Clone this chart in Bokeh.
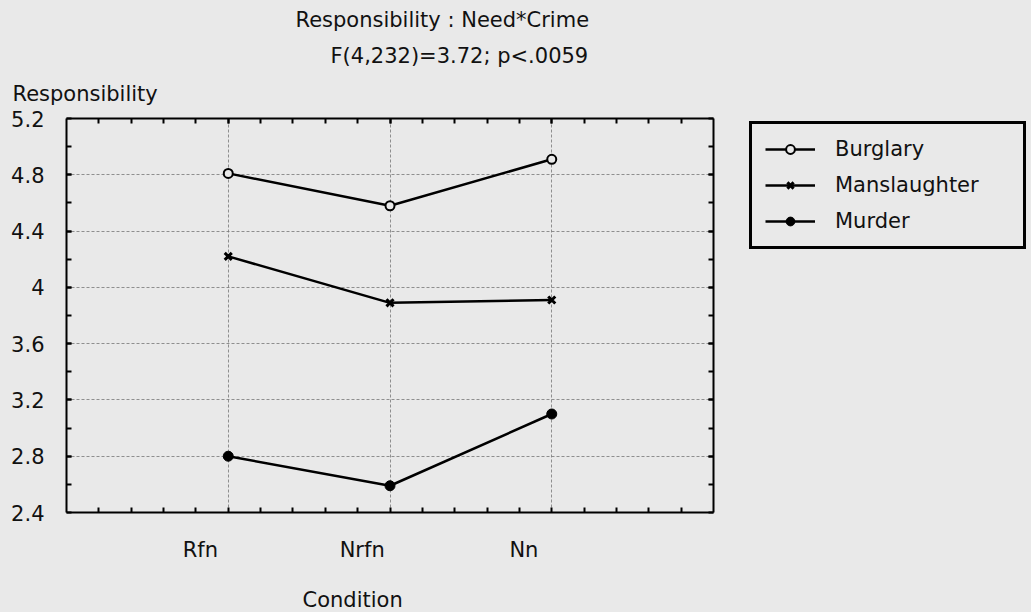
from bokeh.plotting import figure
from bokeh.layouts import row
from bokeh.models import (Range1d, LinearAxis, FixedTicker, Legend, LegendItem, Title,
                          CustomLabelingPolicy)
from bokeh.embed import file_html
from bokeh.resources import INLINE

# ---- data ----
conditions = ["Rfn", "Nrfn", "Nn"]
burglary = [4.81, 4.58, 4.91]
manslaughter = [4.22, 3.89, 3.91]
murder = [2.80, 2.59, 3.10]
y_ticks = [2.4, 2.8, 3.2, 3.6, 4.0, 4.4, 4.8, 5.2]
y_tick_labels = ["2.4", "2.8", "3.2", "3.6", "4", "4.4", "4.8", "5.2"]
title_lines = ["Responsibility : Need*Crime", "F(4,232)=3.72; p<.0059"]
y_label = "Responsibility"
x_label = "Condition"
series_names = ["Burglary", "Manslaughter", "Murder"]

BG = "#e9e9e9"
FONT = "DejaVu Sans"
FS = "21px"
LABEL_SHIFT = -0.172  # category labels sit slightly left of their tick

xs = list(range(1, len(conditions) + 1))

p = figure(width=731, height=612, x_range=Range1d(0, 4), y_range=Range1d(2.4, 5.2),
           output_backend="svg", toolbar_location=None,
           min_border_left=66, min_border_right=18, min_border_top=0, min_border_bottom=0,
           background_fill_color=BG, border_fill_color=BG)
p.outline_line_color = None
p.title.visible = False

no_labels = CustomLabelingPolicy(code="for (const i of indices) indices.unset(i); return indices")

x_minor = [round(0.2 * k, 1) for k in range(1, 20)]
y_minor = [round(2.4 + 0.2 * k, 1) for k in range(1, 14)]
xticker_top = FixedTicker(ticks=xs, minor_ticks=x_minor)
xticker_bot = FixedTicker(ticks=[x + LABEL_SHIFT for x in xs], minor_ticks=x_minor)
yticker = FixedTicker(ticks=y_ticks, minor_ticks=y_minor)

def style_axis(ax):
    ax.axis_line_width = 2
    ax.axis_line_color = "black"
    ax.major_tick_line_width = 2
    ax.minor_tick_line_width = 2
    ax.major_tick_in = 5
    ax.major_tick_out = 0
    ax.minor_tick_in = 5
    ax.minor_tick_out = 0
    ax.major_label_text_font = FONT
    ax.major_label_text_font_size = FS
    ax.major_label_text_color = "#111111"

def spacer_axis(px):
    # invisible axis used only to reserve vertical space in a side panel
    return LinearAxis(ticker=FixedTicker(ticks=[2]), axis_line_color=None,
                      major_tick_line_color=None, minor_tick_line_color=None,
                      major_tick_out=px, major_tick_in=0, minor_tick_out=0, minor_tick_in=0,
                      major_label_policy=no_labels, major_label_text_font_size="0px",
                      major_label_standoff=0)

xa = p.xaxis[0]
xa.ticker = xticker_bot
style_axis(xa)
xa.major_tick_in = 0
xa.major_label_overrides = {x + LABEL_SHIFT: c for x, c in zip(xs, conditions)}
xa.major_label_standoff = 25

ya = p.yaxis[0]
ya.ticker = yticker
style_axis(ya)
ya.major_label_overrides = {t: l for t, l in zip(y_ticks, y_tick_labels)}
ya.major_label_standoff = 22

top_ax = LinearAxis(ticker=xticker_top, major_label_policy=no_labels, major_label_standoff=0)
style_axis(top_ax)
top_ax.major_label_text_font_size = "0px"
p.add_layout(top_ax, "above")
right_ax = LinearAxis(ticker=yticker, major_label_policy=no_labels, major_label_standoff=0)
style_axis(right_ax)
right_ax.major_label_text_font_size = "0px"
p.add_layout(right_ax, "right")

p.xgrid.ticker = FixedTicker(ticks=xs)
p.ygrid.ticker = FixedTicker(ticks=y_ticks[1:-1])
for g in (p.xgrid[0], p.ygrid[0]):
    g.grid_line_color = "#777777"
    g.grid_line_dash = "3 2"
    g.grid_line_width = 1
    g.grid_line_alpha = 0.8

# ---- series ----
def draw_series(fig):
    r = []
    r.append(fig.line(xs, burglary, line_color="black", line_width=2.5))
    r.append(fig.scatter(xs, burglary, marker="circle", size=9, fill_color=BG,
                         line_color="black", line_width=2))
    r.append(fig.line(xs, manslaughter, line_color="black", line_width=2.5))
    r.append(fig.scatter(xs, manslaughter, marker="x", size=10, line_color="black", line_width=3))
    r.append(fig.line(xs, murder, line_color="black", line_width=2.5))
    r.append(fig.scatter(xs, murder, marker="circle", size=10, fill_color="black",
                         line_color="black"))
    return r

draw_series(p)

# ---- titles / labels in side panels (closest to frame first) ----
def ttl(text, offset, standoff):
    return Title(text=text, align="left", offset=offset, standoff=standoff,
                 text_font=FONT, text_font_size=FS, text_font_style="normal",
                 text_color="#111111")

p.add_layout(spacer_axis(6), "above")
p.add_layout(ttl(y_label, -54, 14), "above")
p.add_layout(ttl(title_lines[1], 264, 9), "above")
p.add_layout(ttl(title_lines[0], 229, 11), "above")

p.add_layout(spacer_axis(20), "below")
p.add_layout(ttl(x_label, 236, 2), "below")

# ---- legend panel (separate canvas to the right of the chart) ----
leg = figure(width=300, height=612, x_range=Range1d(-10, -9), y_range=Range1d(-10, -9),
             output_backend="svg", toolbar_location=None, min_border=0,
             x_axis_type=None, y_axis_type=None,
             background_fill_color=BG, border_fill_color=BG)
leg.outline_line_color = None
leg.title.visible = False
lr = draw_series(leg)

legend = Legend(items=[LegendItem(label=series_names[0], renderers=[lr[0], lr[1]]),
                       LegendItem(label=series_names[1], renderers=[lr[2], lr[3]]),
                       LegendItem(label=series_names[2], renderers=[lr[4], lr[5]])],
                location=(18, 263))
legend.label_text_font = FONT
legend.label_text_font_size = "21px"
legend.label_text_color = "#111111"
legend.glyph_width = 50
legend.glyph_height = 22
legend.label_height = 22
legend.label_width = 175
legend.label_standoff = 20
legend.spacing = 12
legend.padding = 13
legend.margin = 0
legend.border_line_color = "black"
legend.border_line_alpha = 1.0
legend.border_line_width = 3
legend.background_fill_color = BG
legend.background_fill_alpha = 1
leg.add_layout(legend, "center")

layout = row(p, leg)
html = file_html(layout, INLINE)
html = html.replace("</head>", "<style>body{background:%s;}</style></head>" % BG, 1)
open("out.html", "w").write(html)
